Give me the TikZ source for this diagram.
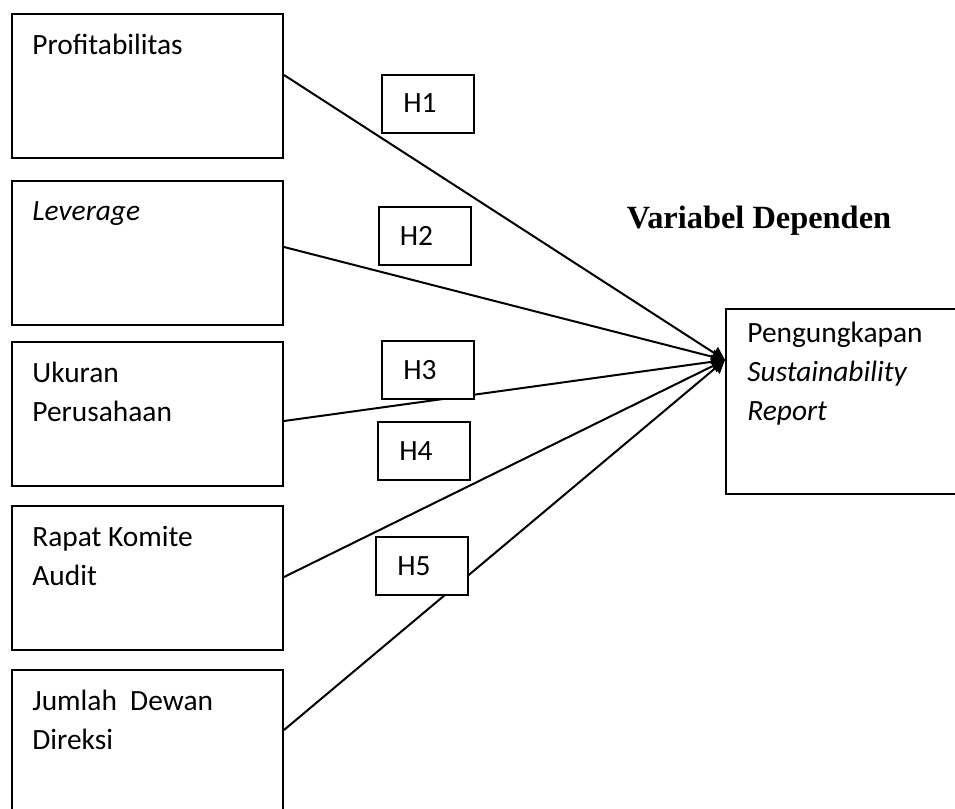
\documentclass[tikz,border=0pt]{standalone}
\usepackage{fontspec}
\setmainfont{Carlito}
\newfontfamily\titlefont{Liberation Serif}
\usetikzlibrary{arrows.meta}

\tikzset{
    var box/.style={
        draw,line width=1pt,
        minimum width=135.5pt,minimum height=72pt,
        anchor=north west,inner sep=0pt
    },
    var text/.style={
        anchor=north west,align=left,inner sep=0pt,
        font=\fontsize{14.7}{19.5}\selectfont
    },
    hyp box/.style={
        draw,line width=1pt,fill=white,
        minimum width=46pt,minimum height=29pt,
        font=\fontsize{14.7}{16}\selectfont
    },
    link/.style={line width=1pt,-{Triangle[length=6.5pt,width=7pt]}}
}

\begin{document}
\begin{tikzpicture}[x=0.5pt,y=-0.5pt]
        \useasboundingbox (0,0) rectangle (955,809);
        \clip (0,0) rectangle (955,809);
        % independent variables
        \foreach \name/\y/\txt in {prof/13/{Profitabilitas},lev/180/{\textit{Leverage}},
            uk/341/{Ukuran\\Perusahaan},rka/505/{Rapat Komite\\Audit},jdd/669/{Jumlah~ Dewan\\Direksi}}
            \node[var box,label={[var text,xshift=10.5pt,yshift=-10.5pt]north west:\txt}] (\name) at (11,\y) {};
        % dependent variable
        \node[var box,minimum width=120pt,minimum height=92.5pt,
            label={[var text,xshift=11pt,yshift=-7pt]north west:Pengungkapan\\\textit{Sustainability}\\\textit{Report}}]
            (dep) at (725,308) {};
        \node[anchor=base,inner sep=0pt,font=\titlefont\bfseries\fontsize{16.2}{18}\selectfont] (title) at (759,228) {Variabel Dependen};
        \coordinate (tip) at ([yshift=-26pt]dep.north west);
        \foreach \name/\off in {prof/62,lev/67,uk/80,rka/72,jdd/61}
            \draw[link] ([yshift=-\off*0.5pt]\name.north east) -- (tip);
        % hypotheses
        \foreach \i/\x/\y in {1/428/103.5,2/424.5/236,3/428/370,4/424/451,5/422/566}
            \node[hyp box] (h\i) at (\x,\y) {\raisebox{-1.5pt}{H\i}\hspace*{8pt}};
    \end{tikzpicture}
\end{document}
